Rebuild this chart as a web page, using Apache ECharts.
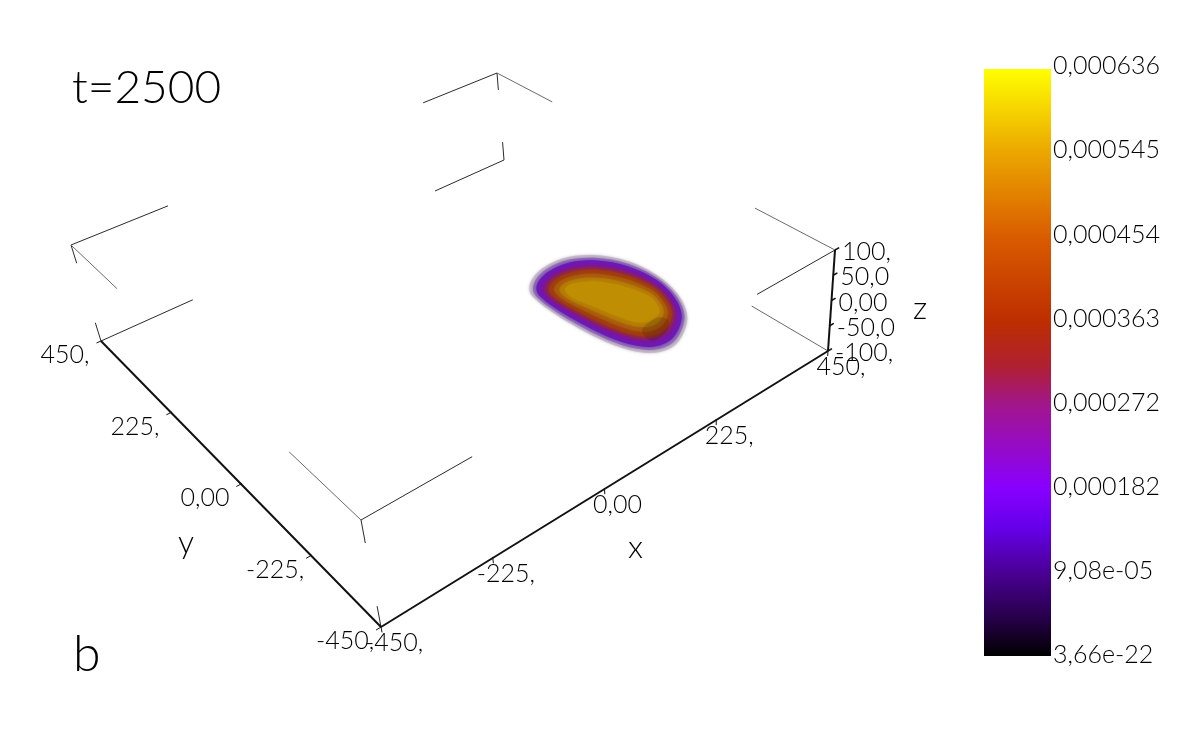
<!DOCTYPE html>
<html>
<head>
<meta charset="utf-8">
<title>t=2500</title>
<style>
html, body { margin: 0; padding: 0; background: #fff; }
#chart_1 { width: 1200px; height: 748px; }
</style>
<script src="https://cdn.jsdelivr.net/npm/echarts@6/dist/echarts.min.js"></script>
</head>
<body>
<div id="chart_1"></div>
<script>
// colour bar
var barTicks = [3.66e-22, 9.08e-5, 0.000182, 0.000272, 0.000363, 0.000454, 0.000545, 0.000636];
var barLabels = ['3,66e-22', '9,08e-05', '0,000182', '0,000272', '0,000363', '0,000454', '0,000545', '0,000636'];
var stopValues = [0.000636, 0.000545, 0.000454, 0.000363, 0.000315, 0.000272, 0.000182, 0.00014, 9.08e-5, 4.5e-5, 3.66e-22];
var stopColors = ['#ffff00', '#eba600', '#d95c00', '#bd2e00', '#b02030', '#a2168c', '#8800ff', '#6600ea', '#4a0095', '#2a0050', '#000000'];

// axis ticks, box units
var xTicks = [-450, -225, 0, 225, 450];
var xTickLabels = ['-450,', '-225,', '0,00', '225,', '450,'];
var yTicks = [-450, -225, 0, 225, 450];
var yTickLabels = ['-450,', '-225,', '0,00', '225,', '450,'];
var zTicks = [-100, -50, 0, 50, 100];
var zTickLabels = ['-100,', '-50,0', '0,00', '50,0', '100,'];

// box corners as seen on the view plane, [x, y, z] sign -> [u, v]
var boxCorners = {
    '---': [381, 627], '+--': [828, 351], '-+-': [101, 341], '++-': [504, 160],
    '--+': [361, 520], '+-+': [835, 250], '-++': [71, 245], '+++': [497, 73]
};

// corner brackets of the bounding box, box units
var darkBrackets = [
    [[-450, -450, 100], [-239, -450, 100]],
    [[-450, -450, 100], [-450, -450, 57]],
    [[-450, -450, -100], [-450, -450, -61]],
    [[-450, 450, 100], [-245, 450, 100]],
    [[-450, 450, 100], [-450, 450, 62]],
    [[-450, 450, -100], [-245, 450, -100]],
    [[-450, 450, -100], [-450, 450, -62]],
    [[450, 450, 100], [294, 450, 100]],
    [[450, 450, 100], [450, 450, 61]],
    [[450, 450, -100], [296, 450, -100]],
    [[450, 450, -100], [450, 450, -59]],
    [[450, -450, 100], [302, -450, 100]]
];
var greyBrackets = [
    [[-450, -450, 100], [-450, -227, 100]],
    [[-450, 450, 100], [-450, 307, 100]],
    [[450, 450, 100], [450, 303, 100]],
    [[450, -450, 100], [450, -237, 100]],
    [[450, -450, -100], [450, -238, -100]]
];

// iso contours of the blob on the view plane, outer to inner
var ringColors = ['#c8bccb', '#8e70b2', '#6c18b8', '#7a14a0', '#8c2250', '#a03a10', '#a85a0a', '#b47a06', '#c08e02'];
var rings = [
    [[529.3,288.3],[538.3,271.7],[563.3,258.3],[593.3,255],[626.7,260.7],[656.7,275],[678.3,295],[687.3,318.3],[678.3,341.7],[660,352],[636.7,351.7],[606.7,342.3],[570,323.3],[538.3,301.7]],
    [[533,288.5],[541.6,272.9],[565.6,260.6],[594.6,257.8],[627,263.5],[656,277.2],[676.2,296],[684.5,317.6],[676,339.4],[658.5,349],[636,348.6],[607,339.4],[572,321.5],[541.8,301.4]],
    [[536.4,288.6],[545,274.2],[568,263],[596,260.5],[627.4,266.2],[655.4,279.3],[674.1,297],[681.7,317],[673.6,337],[657,346],[635.4,345.5],[607.4,336.5],[574,319.6],[545.3,301]],
    [[541,288.9],[549.3,275.8],[571,266],[597.7,264.1],[627.8,269.8],[654.5,282.2],[671.4,298.3],[678,316.1],[670.6,334],[655,342.2],[634.5,341.5],[607.8,332.7],[576.6,317.3],[549.9,300.6]],
    [[545.4,289],[553.3,277.2],[573.8,268.8],[599.3,267.5],[628.2,273.1],[653.7,284.8],[668.9,299.5],[674.7,315.3],[667.8,331.2],[653.3,338.6],[633.7,337.7],[608.2,329.3],[579,315],[554,300.2]],
    [[549,289.2],[556.7,278.5],[576.2,271.2],[600.7,270.2],[628.5,275.9],[653,286.9],[666.8,300.5],[671.9,314.7],[665.5,328.8],[651.8,335.7],[633,334.7],[608.5,326.4],[581,313.2],[557.6,299.8]],
    [[554.3,289.5],[561.7,280.3],[579.7,274.7],[602.7,274.4],[629,280],[652,290.2],[663.6,302],[667.7,313.7],[662,325.3],[649.5,331.2],[632,330],[609,322],[584,310.5],[562.8,299.3]],
    [[559.6,289.7],[566.7,282.2],[583.2,278.2],[604.7,278.5],[629.5,284.2],[651,293.4],[660.5,303.5],[663.5,312.7],[658.5,321.8],[647.3,326.8],[631,325.3],[609.5,317.7],[587,307.8],[568,298.8]],
    [[565,290],[571.7,284],[586.7,281.7],[606.7,282.7],[630,288.3],[650,296.7],[657.3,305],[659.3,311.7],[655,318.3],[645,322.3],[630,320.7],[610,313.3],[590,305],[573.3,298.3]]
];
// darker shade at the lower right of the blob
var shadePatch = [[642,330],[656,318],[668,320],[666,332],[652,341]];

var textFont = 'Lato';
var textColor = '#000';

init_chart();

function init_chart() {
    var myChart = echarts.init(document.getElementById('chart_1'));

    // trilinear lookup between the eight box corners
    function project(p) {
        var tx = (p[0] + 450) / 900, ty = (p[1] + 450) / 900, tz = (p[2] + 100) / 200;
        var out = [0, 0];
        ['-', '+'].forEach(function (sx, i) {
            ['-', '+'].forEach(function (sy, j) {
                ['-', '+'].forEach(function (sz, k) {
                    var w = (i ? tx : 1 - tx) * (j ? ty : 1 - ty) * (k ? tz : 1 - tz);
                    out[0] += w * boxCorners[sx + sy + sz][0];
                    out[1] += w * boxCorners[sx + sy + sz][1];
                });
            });
        });
        return out;
    }

    function segment(seg, color, width) {
        return {
            type: 'line', xAxisIndex: 0, yAxisIndex: 0, silent: true, symbol: 'none',
            animation: false, clip: false,
            lineStyle: {color: color, width: width},
            data: seg.map(project)
        };
    }

    function tickLabels(values, labels, toPoint, offset, align) {
        return {
            type: 'scatter', xAxisIndex: 0, yAxisIndex: 0, silent: true, symbolSize: 0,
            animation: false, clip: false, z: 5,
            itemStyle: {opacity: 1},
            label: {
                show: true, position: 'inside', offset: offset, align: align,
                fontFamily: textFont, fontWeight: 300, fontSize: 25, color: textColor,
                formatter: function (params) { return labels[params.dataIndex]; }
            },
            data: values.map(function (v) { return project(toPoint(v)); })
        };
    }

    // closed catmull-rom through the read points, so the contour stays round
    function closedCurve(points) {
        var n = points.length, d = 'M' + points[0][0] + ' ' + points[0][1];
        for (var i = 0; i < n; i++) {
            var p0 = points[(i + n - 1) % n], p1 = points[i], p2 = points[(i + 1) % n], p3 = points[(i + 2) % n];
            d += 'C' + (p1[0] + (p2[0] - p0[0]) / 6) + ' ' + (p1[1] + (p2[1] - p0[1]) / 6) + ' ' +
                (p2[0] - (p3[0] - p1[0]) / 6) + ' ' + (p2[1] - (p3[1] - p1[1]) / 6) + ' ' +
                p2[0] + ' ' + p2[1];
        }
        return d + 'Z';
    }

    var series = [];
    darkBrackets.forEach(function (s) { series.push(segment(s, '#2a2a2a', 1)); });
    greyBrackets.forEach(function (s) { series.push(segment(s, '#6a6a6a', 1)); });

    // main axes
    series.push(segment([[-450, -450, -100], [450, -450, -100]], '#111', 2));
    series.push(segment([[-450, -450, -100], [-450, 450, -100]], '#111', 2));
    series.push(segment([[450, -450, -100], [450, -450, 100]], '#111', 2));
    xTicks.forEach(function (v) { series.push(segment([[v, -450, -98], [v, -450, -110]], '#111', 1)); });
    yTicks.forEach(function (v) { series.push(segment([[-448, v, -100], [-460, v, -100]], '#111', 1)); });
    zTicks.forEach(function (v) { series.push(segment([[450, -450, v], [458, -450, v]], '#111', 1.5)); });

    series.push(tickLabels(xTicks, xTickLabels, function (v) { return [v, -450, -100]; }, [13, 16], 'center'));
    series.push(tickLabels(yTicks, yTickLabels, function (v) { return [-450, v, -100]; }, [-36, 14], 'center'));
    series.push(tickLabels(zTicks, zTickLabels, function (v) { return [450, -450, v]; }, [7, 2], 'left'));

    // blob
    var blobShapes = rings.concat([shadePatch]);
    series.push({
        type: 'custom', xAxisIndex: 0, yAxisIndex: 0, silent: true, animation: false, clip: false, z: 3,
        data: blobShapes.map(function (r, i) { return [i]; }),
        renderItem: function (params, api) {
            var i = api.value(0);
            var isShade = i === rings.length;
            return {
                type: 'path',
                shape: {pathData: closedCurve(blobShapes[i].map(function (p) { return api.coord(p); }))},
                style: {
                    fill: isShade ? 'rgba(40,20,0,0.16)' : ringColors[i],
                    shadowBlur: isShade ? 12 : 3,
                    shadowColor: isShade ? 'rgba(40,20,0,0.3)' : ringColors[i]
                }
            };
        }
    });

    // colour bar
    var top = stopValues[0], bottom = stopValues[stopValues.length - 1];
    series.push({
        type: 'bar', xAxisIndex: 1, yAxisIndex: 1, barWidth: '100%', silent: true, animation: false,
        data: [top],
        itemStyle: {
            color: {
                type: 'linear', x: 0, y: 0, x2: 0, y2: 1,
                colorStops: stopValues.map(function (v, i) {
                    return {offset: (top - v) / (top - bottom), color: stopColors[i]};
                })
            }
        }
    });

    function heading(text, left, top, size) {
        return {
            text: text, left: left, top: top, padding: 0,
            textStyle: {fontFamily: textFont, fontWeight: 300, fontSize: size, color: textColor}
        };
    }

    myChart.setOption({
        backgroundColor: '#fff',
        animation: false,
        title: [
            heading('t=2500', 72, 65, 46),
            heading('b', 73, 630, 50),
            heading('x', 628, 532, 32),
            heading('y', 178, 527, 32),
            heading('z', 913, 293, 32)
        ],
        grid: [
            {left: 0, top: 0, width: 1200, height: 748},
            {left: 984, top: 69, width: 67, height: 587},
            {left: 984, top: 66, width: 67, height: 589}
        ],
        xAxis: [
            {type: 'value', gridIndex: 0, min: 0, max: 1200, show: false},
            {type: 'category', gridIndex: 1, data: ['c'], show: false},
            {type: 'category', gridIndex: 2, data: ['c'], show: false}
        ],
        yAxis: [
            {type: 'value', gridIndex: 0, min: 0, max: 748, inverse: true, show: false},
            {type: 'value', gridIndex: 1, min: 0, max: top, show: false},
            {
                type: 'value', gridIndex: 2, position: 'right', min: 0, max: top,
                axisLine: {show: false},
                axisTick: {show: false},
                splitLine: {show: false},
                axisLabel: {
                    margin: 2, fontFamily: textFont, fontWeight: 300, fontSize: 25, color: textColor,
                    customValues: barTicks,
                    formatter: function (value) { return barLabels[barTicks.indexOf(value)]; }
                }
            }
        ],
        series: series
    });
}
</script>
</body>
</html>
